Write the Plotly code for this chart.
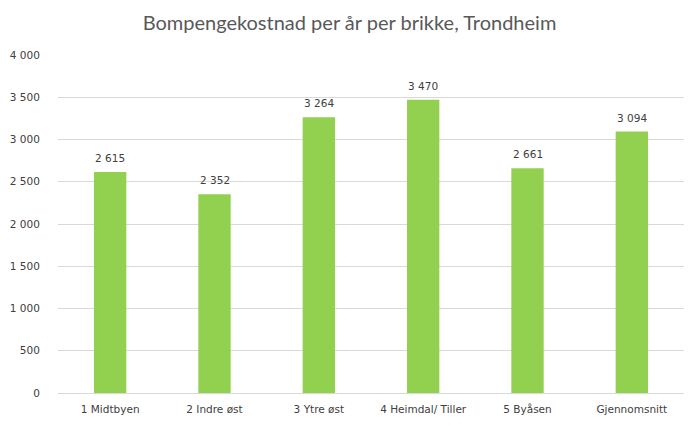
import plotly.graph_objects as go

categories = ["1 Midtbyen", "2 Indre øst", "3 Ytre øst", "4 Heimdal/ Tiller", "5 Byåsen", "Gjennomsnitt"]
values = [2615, 2352, 3264, 3470, 2661, 3094]
tick_vals = [0, 500, 1000, 1500, 2000, 2500, 3000, 3500, 4000]

fig = go.Figure(go.Bar(
    x=categories, y=values,
    marker=dict(color="#92D050", line=dict(width=0)),
    width=0.31,
))

for c, v in zip(categories, values):
    fig.add_annotation(x=c, y=v, text=f"{v:,}".replace(",", " "),
                       showarrow=False, yanchor="bottom", yshift=6,
                       font=dict(family="DejaVu Sans", size=10.5, color="#404040"))

fig.update_layout(
    width=688, height=431,
    margin=dict(l=58, r=4, t=55, b=38),
    paper_bgcolor="white", plot_bgcolor="white",
    separators=", ",
    title=dict(text="Bompengekostnad per år per brikke, Trondheim",
               x=0.508, xanchor="center", y=0.946, yanchor="middle",
               font=dict(family="Lato", size=20, color="#595959")),
    showlegend=False,
)
fig.update_yaxes(range=[0, 4000], tickvals=tick_vals, tickformat=",d",
                 showgrid=True, gridcolor="#D9D9D9", gridwidth=1,
                 zeroline=True, zerolinecolor="#D9D9D9", zerolinewidth=1,
                 ticks="outside", ticklen=15, tickcolor="rgba(0,0,0,0)",
                 tickfont=dict(family="DejaVu Sans", size=10.5, color="#404040"),
                 showline=False)
fig.update_xaxes(showgrid=False, showline=False, ticks="outside", ticklen=6,
                 tickcolor="rgba(0,0,0,0)",
                 tickfont=dict(family="DejaVu Sans", size=10.5, color="#404040"))

fig.write_html("out.html")
